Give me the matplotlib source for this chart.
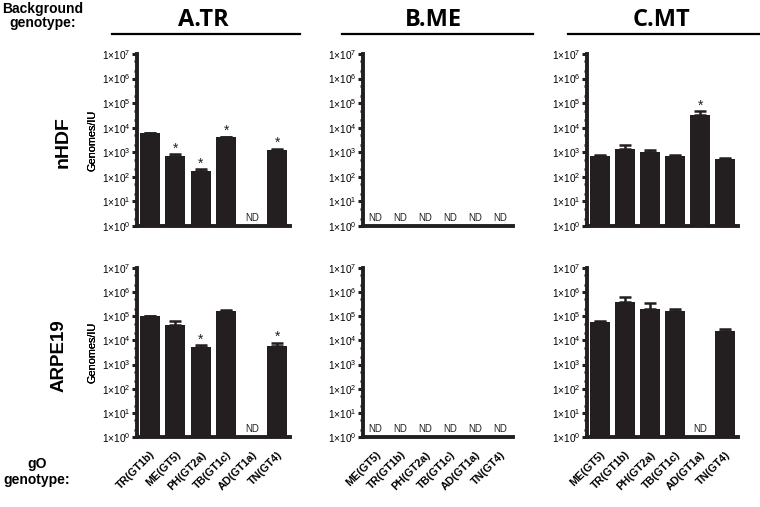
import numpy as np
import matplotlib
matplotlib.use("Agg")
import matplotlib.pyplot as plt
from matplotlib.lines import Line2D
from matplotlib.ticker import LogLocator, FixedLocator, FuncFormatter, NullFormatter

plt.rcParams['font.family'] = ['Liberation Sans', 'DejaVu Sans']
plt.rcParams['mathtext.fontset'] = 'custom'
plt.rcParams['mathtext.rm'] = 'Liberation Sans'
plt.rcParams['mathtext.it'] = 'Liberation Sans'
plt.rcParams['mathtext.bf'] = 'Liberation Sans:bold'

nan = np.nan

# ---- data ----
columns = ['A.TR', 'B.ME', 'C.MT']
rows = ['nHDF', 'ARPE19']
cats_A = ['TR(GT1b)', 'ME(GT5)', 'PH(GT2a)', 'TB(GT1c)', 'AD(GT1a)', 'TN(GT4)']
cats_BC = ['ME(GT5)', 'TR(GT1b)', 'PH(GT2a)', 'TB(GT1c)', 'AD(GT1a)', 'TN(GT4)']

A_nHDF = [6000, 700, 170, 4000, nan, 1200]
A_nHDF_top = [6300, 850, 210, 4300, nan, 1400]
A_nHDF_sig = [False, True, True, True, False, True]

A_ARPE = [1.0e5, 4.5e4, 5.5e3, 1.6e5, nan, 5.8e3]
A_ARPE_top = [1.05e5, 6.2e4, 6.5e3, 1.85e5, nan, 8.0e3]
A_ARPE_sig = [False, False, True, False, False, True]

B_nHDF = [nan, nan, nan, nan, nan, nan]
B_nHDF_top = [nan, nan, nan, nan, nan, nan]
B_nHDF_sig = [False] * 6

B_ARPE = [nan, nan, nan, nan, nan, nan]
B_ARPE_top = [nan, nan, nan, nan, nan, nan]
B_ARPE_sig = [False] * 6

C_nHDF = [700, 1400, 1000, 720, 33000, 550]
C_nHDF_top = [760, 1900, 1250, 780, 48000, 570]
C_nHDF_sig = [False, False, False, False, True, False]

C_ARPE = [5.6e4, 3.8e5, 2.1e5, 1.7e5, nan, 2.4e4]
C_ARPE_top = [6.5e4, 6.0e5, 3.6e5, 2.0e5, nan, 2.9e4]
C_ARPE_sig = [False] * 6

panels = {
    (0, 0): (cats_A, A_nHDF, A_nHDF_top, A_nHDF_sig),
    (1, 0): (cats_A, A_ARPE, A_ARPE_top, A_ARPE_sig),
    (0, 1): (cats_BC, B_nHDF, B_nHDF_top, B_nHDF_sig),
    (1, 1): (cats_BC, B_ARPE, B_ARPE_top, B_ARPE_sig),
    (0, 2): (cats_BC, C_nHDF, C_nHDF_top, C_nHDF_sig),
    (1, 2): (cats_BC, C_ARPE, C_ARPE_top, C_ARPE_sig),
}
ytick_exps = [0, 1, 2, 3, 4, 5, 6, 7]

W, H = 760, 507
fig = plt.figure(figsize=(W / 100, H / 100), dpi=100)

col_x = [(137, 290), (363, 513), (587, 738)]
row_y = [(54, 226), (268, 437)]
bar_color = '#231f20'

def fx(px):
    return px / W

def fy(py):
    return 1 - py / H

for (r, c), (cats, vals, tops, sig) in panels.items():
    x0, x1 = col_x[c]
    y0, y1 = row_y[r]
    ax = fig.add_axes([fx(x0), fy(y1), fx(x1 - x0), (y1 - y0) / H])
    ax.set_yscale('log')
    ax.set_ylim(1, 1e7)
    ax.set_xlim(-0.5, 5.5)
    xs = np.arange(len(cats))
    v = np.array(vals, dtype=float)
    t = np.array(tops, dtype=float)
    ok = ~np.isnan(v)
    ax.bar(xs[ok], v[ok] - 1, bottom=1, width=0.8, color=bar_color, zorder=2)
    if ok.any():
        ax.errorbar(xs[ok], v[ok], yerr=[np.zeros(ok.sum()), t[ok] - v[ok]],
                    fmt='none', ecolor=bar_color, elinewidth=1.8, capsize=4,
                    capthick=1.8, zorder=3)
    for i in range(len(cats)):
        if not ok[i]:
            ax.annotate('ND', (xs[i], 1), xytext=(0, 2.5), textcoords='offset points',
                        ha='center', va='bottom', fontsize=7, color=bar_color)
        elif sig[i]:
            ax.annotate('*', (xs[i], t[i]), xytext=(0, -1), textcoords='offset points',
                        ha='center', va='bottom', fontsize=10, color=bar_color)
    for s in ['top', 'right']:
        ax.spines[s].set_visible(False)
    ax.spines['left'].set_linewidth(2.8)
    ax.spines['bottom'].set_linewidth(2.8)
    ax.spines['left'].set_color(bar_color)
    ax.spines['bottom'].set_color(bar_color)
    ax.yaxis.set_major_locator(FixedLocator([10.0 ** e for e in ytick_exps]))
    ax.yaxis.set_minor_locator(LogLocator(base=10, subs=(2.0, 5.0), numticks=20))
    ax.yaxis.set_minor_formatter(NullFormatter())
    ax.yaxis.set_major_formatter(FuncFormatter(
        lambda y, p: r'$1{\times}10^{%d}$' % int(round(np.log10(y)))))
    ax.tick_params(axis='y', which='major', length=3.5, width=2.2, labelsize=7.3,
                   pad=1, color=bar_color)
    ax.tick_params(axis='y', which='minor', length=2.5, width=1.8, color=bar_color)
    ax.set_ylabel('Genomes/IU', fontsize=7.8, labelpad=2)
    ax.yaxis.set_label_coords((98 - x0) / (x1 - x0), 0.5)
    ax.set_xticks(xs)
    if r == 1:
        ax.set_xticklabels(cats, rotation=45, ha='right', rotation_mode='anchor',
                           fontsize=7.8, fontweight='bold')
        ax.tick_params(axis='x', length=0, pad=9)
    else:
        ax.set_xticklabels([])
        ax.tick_params(axis='x', length=0)
    ax.set_facecolor('none')

# column titles and underlines
title_cx = [203, 433, 662]
line_x = [(112, 300), (342, 533), (568, 760)]
for c, name in enumerate(columns):
    fig.text(fx(title_cx[c]), fy(20), name, ha='center', va='center',
             fontsize=17, fontweight='bold', family=['Open Sans', 'DejaVu Sans'])
    lx0, lx1 = line_x[c]
    fig.add_artist(Line2D([fx(lx0), fx(lx1)], [fy(34), fy(34)], color='black',
                          linewidth=1.6, transform=fig.transFigure))

# row labels
fig.text(fx(63), fy(142), rows[0], rotation=90, ha='center', va='center',
         fontsize=14, fontweight='bold')
fig.text(fx(59), fy(356), rows[1], rotation=90, ha='center', va='center',
         fontsize=13.5, fontweight='bold')

fig.text(fx(43), fy(16), 'Background\ngenotype:', ha='center', va='center',
         fontsize=10, fontweight='bold', linespacing=1.05)
fig.text(fx(37), fy(472), 'gO\ngenotype:', ha='center', va='center',
         fontsize=10, fontweight='bold', linespacing=1.25)

fig.savefig('out.png', dpi=100)
